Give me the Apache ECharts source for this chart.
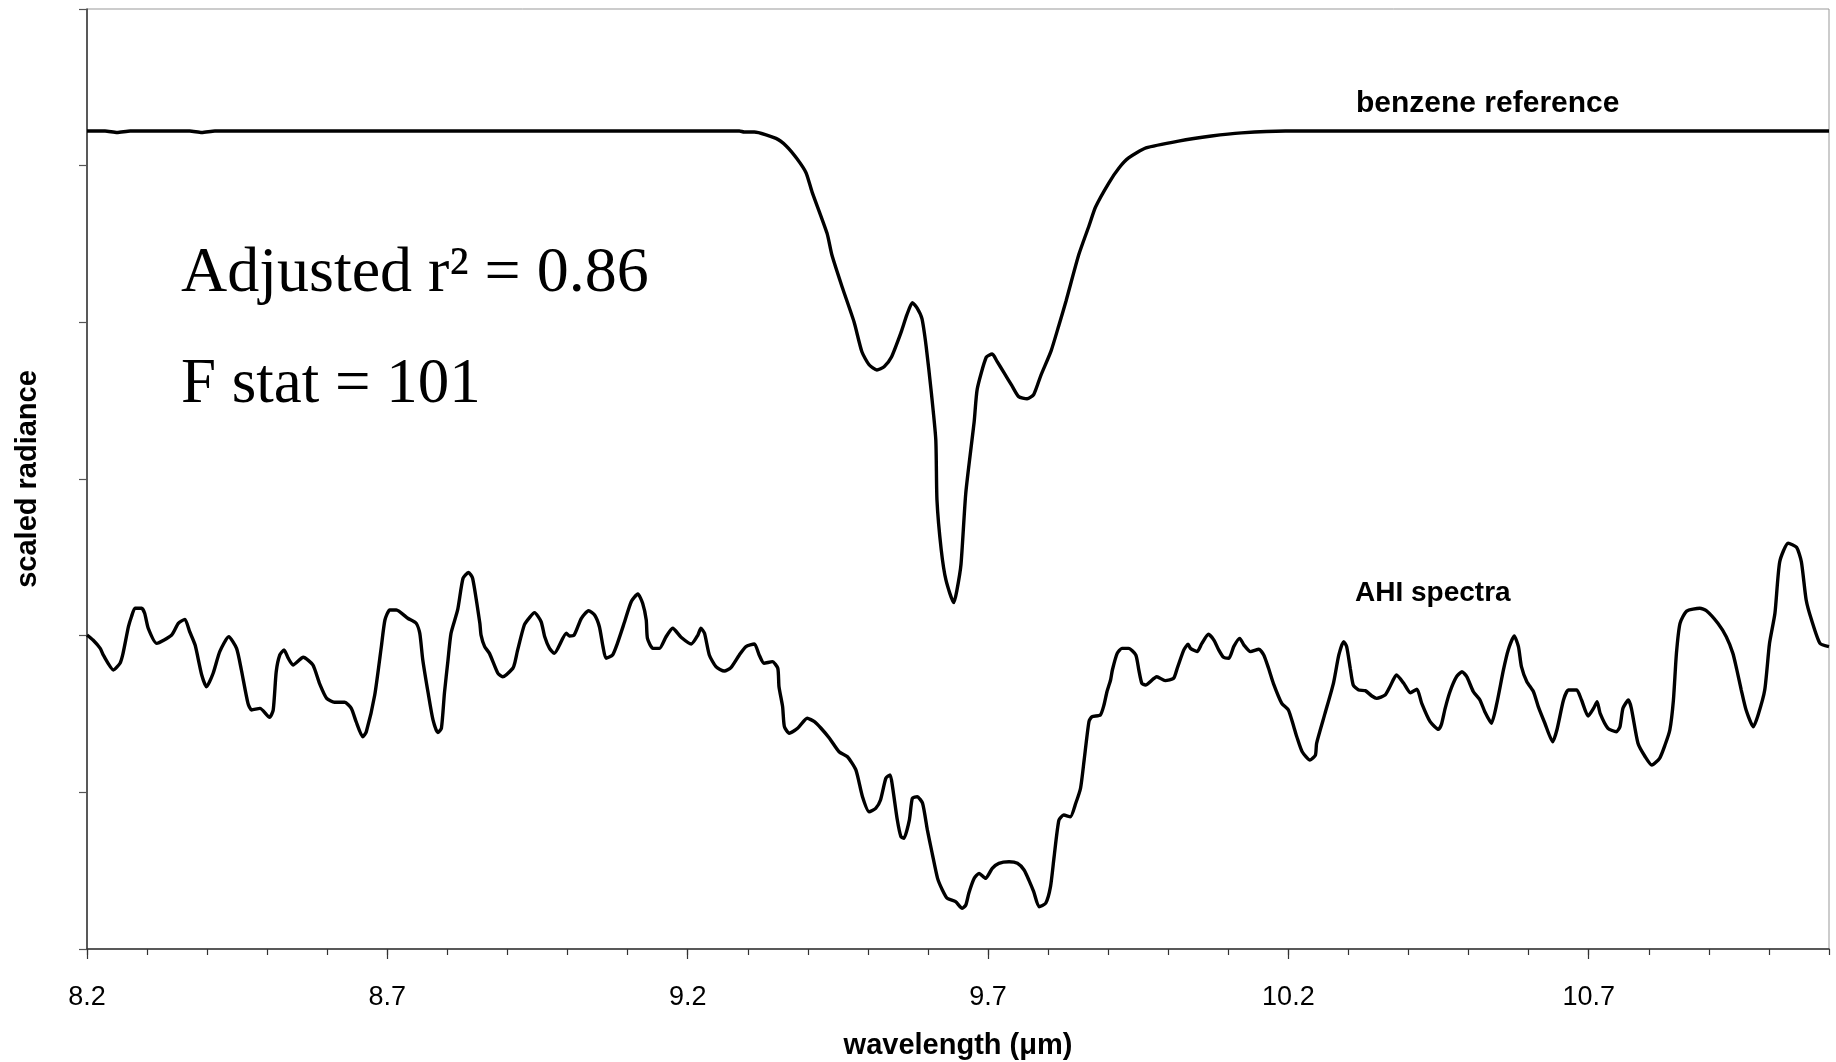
<!DOCTYPE html>
<html><head><meta charset="utf-8">
<script src="https://cdn.jsdelivr.net/npm/echarts@6/dist/echarts.min.js"></script>
<style>html,body{margin:0;padding:0;background:#fff}#c{width:1836px;height:1062px}</style>
</head><body><div id="c"></div>
<script>
// wavelength (micrometres) and scaled radiance
const benzeneX = [8.2, 8.230, 8.250, 8.272, 8.371, 8.391, 8.413, 9.286, 9.294, 9.311, 9.347, 9.364, 9.382, 9.397, 9.407, 9.432, 9.440, 9.457, 9.477, 9.490, 9.502, 9.515, 9.527, 9.539, 9.555, 9.565, 9.574, 9.582, 9.590, 9.597, 9.605, 9.613, 9.615, 9.622, 9.630, 9.643, 9.648, 9.655, 9.663, 9.677, 9.682, 9.697, 9.707, 9.715, 9.726, 9.740, 9.751, 9.765, 9.776, 9.788, 9.805, 9.818, 9.830, 9.851, 9.868, 9.879, 9.901, 9.918, 9.934, 9.963, 10.017, 10.072, 10.122, 10.195, 11.1];
const benzeneY = [5.221, 5.221, 5.212, 5.221, 5.221, 5.212, 5.221, 5.221, 5.215, 5.215, 5.174, 5.126, 5.044, 4.955, 4.833, 4.568, 4.431, 4.227, 4.002, 3.812, 3.729, 3.696, 3.717, 3.777, 3.934, 4.049, 4.125, 4.091, 4.023, 3.846, 3.574, 3.253, 2.865, 2.551, 2.354, 2.211, 2.286, 2.456, 2.912, 3.369, 3.574, 3.777, 3.798, 3.751, 3.682, 3.594, 3.526, 3.512, 3.539, 3.662, 3.818, 3.982, 4.138, 4.431, 4.615, 4.736, 4.889, 4.985, 5.049, 5.113, 5.157, 5.189, 5.209, 5.221, 5.221];

const ahiX = [
8.200, 8.210, 8.222, 8.227, 8.244, 8.255, 8.260, 8.269, 8.274, 8.280,
8.291, 8.296, 8.302, 8.316, 8.341, 8.352, 8.363, 8.371, 8.380, 8.391,
8.399, 8.410, 8.421, 8.436, 8.449, 8.457, 8.468, 8.474, 8.488, 8.504,
8.510, 8.515, 8.521, 8.528, 8.535, 8.543, 8.560, 8.576, 8.587, 8.599,
8.612, 8.629, 8.640, 8.648, 8.659, 8.665, 8.679, 8.690, 8.696, 8.704,
8.715, 8.734, 8.748, 8.754, 8.759, 8.768, 8.776, 8.784, 8.790, 8.795,
8.801, 8.806, 8.817, 8.826, 8.835, 8.842, 8.854, 8.856, 8.862, 8.870,
8.884, 8.892, 8.909,
8.912, 8.917, 8.928, 8.937, 8.945, 8.956, 8.962, 8.970, 8.978, 8.998,
9.003, 9.011, 9.023, 9.035, 9.045, 9.053, 9.059, 9.064, 9.075, 9.083,
9.095, 9.106, 9.117, 9.125, 9.131, 9.133, 9.142, 9.153, 9.164, 9.175,
9.189, 9.206, 9.217, 9.222, 9.228, 9.236, 9.247, 9.261, 9.272, 9.286,
9.297, 9.311, 9.319, 9.327, 9.341, 9.350, 9.352, 9.358, 9.361, 9.369,
9.383, 9.399, 9.411, 9.422, 9.436, 9.452, 9.466, 9.480, 9.491, 9.502,
9.513, 9.521, 9.530, 9.537, 9.541, 9.549, 9.555, 9.560, 9.569, 9.574,
9.582, 9.591, 9.599, 9.607, 9.616, 9.624, 9.632,
9.646, 9.657, 9.663, 9.668, 9.677, 9.685, 9.696, 9.707, 9.718, 9.735,
9.749, 9.760, 9.768, 9.776, 9.785, 9.796, 9.804, 9.810, 9.818, 9.826,
9.837, 9.846, 9.854, 9.860, 9.868, 9.873, 9.887, 9.893, 9.898, 9.904,
9.907, 9.915, 9.923, 9.934, 9.946, 9.951, 9.956, 9.962, 9.981, 9.995,
10.009, 10.015, 10.026, 10.033, 10.037, 10.048, 10.056, 10.067, 10.076, 10.084,
10.092, 10.101, 10.109, 10.119, 10.126, 10.137, 10.151, 10.159, 10.167, 10.175,
10.189, 10.200, 10.209, 10.214, 10.223, 10.236, 10.245, 10.247, 10.261, 10.275,
10.284, 10.292, 10.297, 10.303, 10.308, 10.317, 10.328, 10.339, 10.347,
10.361, 10.369, 10.380, 10.392, 10.403, 10.414, 10.422, 10.436, 10.450, 10.455,
10.461, 10.469, 10.480, 10.489, 10.497, 10.508, 10.519, 10.527, 10.538, 10.547,
10.558, 10.566, 10.576, 10.583, 10.588, 10.597, 10.608, 10.616, 10.627, 10.640,
10.647, 10.658, 10.666, 10.680, 10.688, 10.699, 10.708, 10.714, 10.719, 10.732,
10.746, 10.752, 10.757, 10.766, 10.771, 10.782, 10.794, 10.805, 10.818, 10.827,
10.835, 10.841, 10.846, 10.852, 10.863, 10.885, 10.896, 10.915, 10.929, 10.940,
10.946, 10.954, 10.962, 10.974, 10.982, 10.993, 11.001, 11.010, 11.018, 11.032,
11.046, 11.054, 11.062, 11.071, 11.085, 11.100];
const ahiY = [
2.004, 1.972, 1.919, 1.877, 1.781, 1.824, 1.887, 2.057, 2.121, 2.175,
2.175, 2.143, 2.047, 1.951, 2.004, 2.079, 2.104, 2.025, 1.940, 1.749,
1.674, 1.760, 1.898, 1.993, 1.919, 1.781, 1.568, 1.526, 1.536, 1.479,
1.526, 1.770, 1.877, 1.909, 1.856, 1.813, 1.862, 1.813, 1.696, 1.600,
1.575, 1.575, 1.536, 1.451, 1.355, 1.387, 1.621, 1.930, 2.100, 2.164,
2.164, 2.111, 2.079, 2.015, 1.845, 1.632, 1.462, 1.381, 1.409, 1.632,
1.845, 2.015, 2.164, 2.366, 2.404, 2.366, 2.079, 2.004, 1.930, 1.887,
1.760, 1.738, 1.792,
1.824, 1.909, 2.068, 2.117, 2.147, 2.089, 1.993, 1.919, 1.887, 2.015,
1.998, 2.004, 2.111, 2.159, 2.132, 2.057, 1.930, 1.856, 1.877, 1.951,
2.089, 2.217, 2.266, 2.207, 2.100, 1.983, 1.919, 1.919, 1.993, 2.047,
1.990, 1.947, 2.004, 2.047, 2.015, 1.877, 1.802, 1.774, 1.796, 1.877,
1.930, 1.947, 1.877, 1.824, 1.834, 1.792, 1.674, 1.547, 1.419, 1.377,
1.409, 1.473, 1.451, 1.409, 1.345, 1.259, 1.227, 1.143, 0.972, 0.876,
0.898, 0.951, 1.090, 1.111, 1.036, 0.823, 0.717, 0.707, 0.823, 0.962,
0.972, 0.930, 0.760, 0.611, 0.451, 0.377, 0.324,
0.302, 0.260, 0.281, 0.356, 0.451, 0.483, 0.451, 0.515, 0.547, 0.557,
0.547, 0.504, 0.440, 0.366, 0.270, 0.292, 0.398, 0.589, 0.823, 0.855,
0.844, 0.930, 1.026, 1.206, 1.451, 1.483, 1.494, 1.557, 1.642, 1.717,
1.781, 1.887, 1.919, 1.919, 1.877, 1.781, 1.696, 1.685, 1.738, 1.713,
1.728, 1.792, 1.909, 1.945, 1.919, 1.898, 1.951, 2.009, 1.972, 1.909,
1.862, 1.856, 1.930, 1.983, 1.940, 1.898, 1.913, 1.877, 1.792, 1.696,
1.568, 1.526, 1.419, 1.355, 1.259, 1.206, 1.238, 1.313, 1.504, 1.696,
1.877, 1.962, 1.930, 1.792, 1.685, 1.653, 1.649, 1.615, 1.600,
1.621, 1.674, 1.749, 1.696, 1.636, 1.658, 1.568, 1.451, 1.402, 1.436,
1.536, 1.642, 1.738, 1.770, 1.738, 1.642, 1.589, 1.515, 1.441, 1.568,
1.781, 1.909, 1.998, 1.930, 1.802, 1.706, 1.642, 1.547, 1.441, 1.323,
1.398, 1.589, 1.653, 1.653, 1.589, 1.487, 1.536, 1.579, 1.504, 1.409,
1.387, 1.419, 1.536, 1.589, 1.536, 1.313, 1.227, 1.174, 1.217, 1.302,
1.398, 1.589, 1.887, 2.079, 2.157, 2.175, 2.159, 2.079, 1.993, 1.887,
1.792, 1.653, 1.526, 1.419, 1.494, 1.653, 1.951, 2.143, 2.472, 2.590,
2.564, 2.472, 2.228, 2.100, 1.951, 1.930];

const xMin = 8.2, xMax = 11.1;
const majorTickLabels = [8.2, 8.7, 9.2, 9.7, 10.2, 10.7];
const yMin = 0, yMax = 6, yStep = 1;

const minorTicks = [];
for (let i = 0; i <= 29; i++) minorTicks.push(+(xMin + i * 0.1).toFixed(1));

function zip(xs, ys) {
  const n = Math.min(xs.length, ys.length), out = [];
  for (let i = 0; i < n; i++) out.push([xs[i], ys[i]]);
  return out;
}

const SANS = '"Liberation Sans", Arial, sans-serif';
const SERIF = '"Liberation Serif", "Times New Roman", serif';
const axisCol = '#333';

const chart = echarts.init(document.getElementById('c'), null, {renderer: 'canvas'});
chart.setOption({
  backgroundColor: '#fff',
  animation: false,
  grid: {left: 87, right: 7, top: 9, bottom: 113, show: true, borderColor: '#999', borderWidth: 1, backgroundColor: 'transparent'},
  xAxis: [{
    type: 'value', min: xMin, max: xMax, position: 'bottom',
    axisLine: {show: true, onZero: false, lineStyle: {color: axisCol, width: 1.5}},
    axisTick: {show: true, customValues: majorTickLabels, length: 10, lineStyle: {color: axisCol, width: 1.2}},
    axisLabel: {show: true, customValues: majorTickLabels, formatter: v => (+v).toFixed(1), color: '#000', fontSize: 27, fontFamily: SANS, margin: 35},
    splitLine: {show: false}
  }, {
    type: 'value', min: xMin, max: xMax, position: 'bottom',
    axisLine: {show: false},
    axisTick: {show: true, customValues: minorTicks, length: 6, lineStyle: {color: axisCol, width: 1.2}},
    axisLabel: {show: false},
    splitLine: {show: false}
  }],
  yAxis: {
    type: 'value', min: yMin, max: yMax, interval: yStep,
    axisLine: {show: true, onZero: false, lineStyle: {color: axisCol, width: 1.5}},
    axisTick: {show: true, length: 8, lineStyle: {color: '#555', width: 1.2}},
    axisLabel: {show: false},
    splitLine: {show: false}
  },
  series: [{
    name: 'benzene reference', type: 'line', xAxisIndex: 0, data: zip(benzeneX, benzeneY),
    showSymbol: false, smooth: 0.2, lineStyle: {color: '#000', width: 3.4}, z: 3
  }, {
    name: 'AHI spectra', type: 'line', xAxisIndex: 0, data: zip(ahiX, ahiY),
    showSymbol: false, smooth: 0.2, lineStyle: {color: '#000', width: 3.4}, z: 3
  }],
  graphic: [
    {type: 'text', x: 28, y: 479, rotation: Math.PI / 2, style: {text: 'scaled radiance', x: 0, y: 0, fill: '#000', font: 'bold 29px ' + SANS, textAlign: 'center', textVerticalAlign: 'middle'}},
    {type: 'text', x: 958, y: 1046, style: {text: 'wavelength (\u03bcm)', x: 0, y: 0, fill: '#000', font: 'bold 29px ' + SANS, textAlign: 'center', textVerticalAlign: 'middle'}},
    {type: 'text', x: 1356, y: 104, style: {text: 'benzene reference', x: 0, y: 0, fill: '#000', font: 'bold 30px ' + SANS, textAlign: 'left', textVerticalAlign: 'middle'}},
    {type: 'text', x: 1355, y: 593, style: {text: 'AHI spectra', x: 0, y: 0, fill: '#000', font: 'bold 28px ' + SANS, textAlign: 'left', textVerticalAlign: 'middle'}},
    {type: 'text', x: 181, y: 274, style: {text: 'Adjusted r\u00b2 = 0.86', x: 0, y: 0, fill: '#000', font: '64px ' + SERIF, textAlign: 'left', textVerticalAlign: 'middle'}},
    {type: 'text', x: 181, y: 385, style: {text: 'F stat = 101', x: 0, y: 0, fill: '#000', font: '63px ' + SERIF, textAlign: 'left', textVerticalAlign: 'middle'}}
  ]
});
</script>
</body></html>
